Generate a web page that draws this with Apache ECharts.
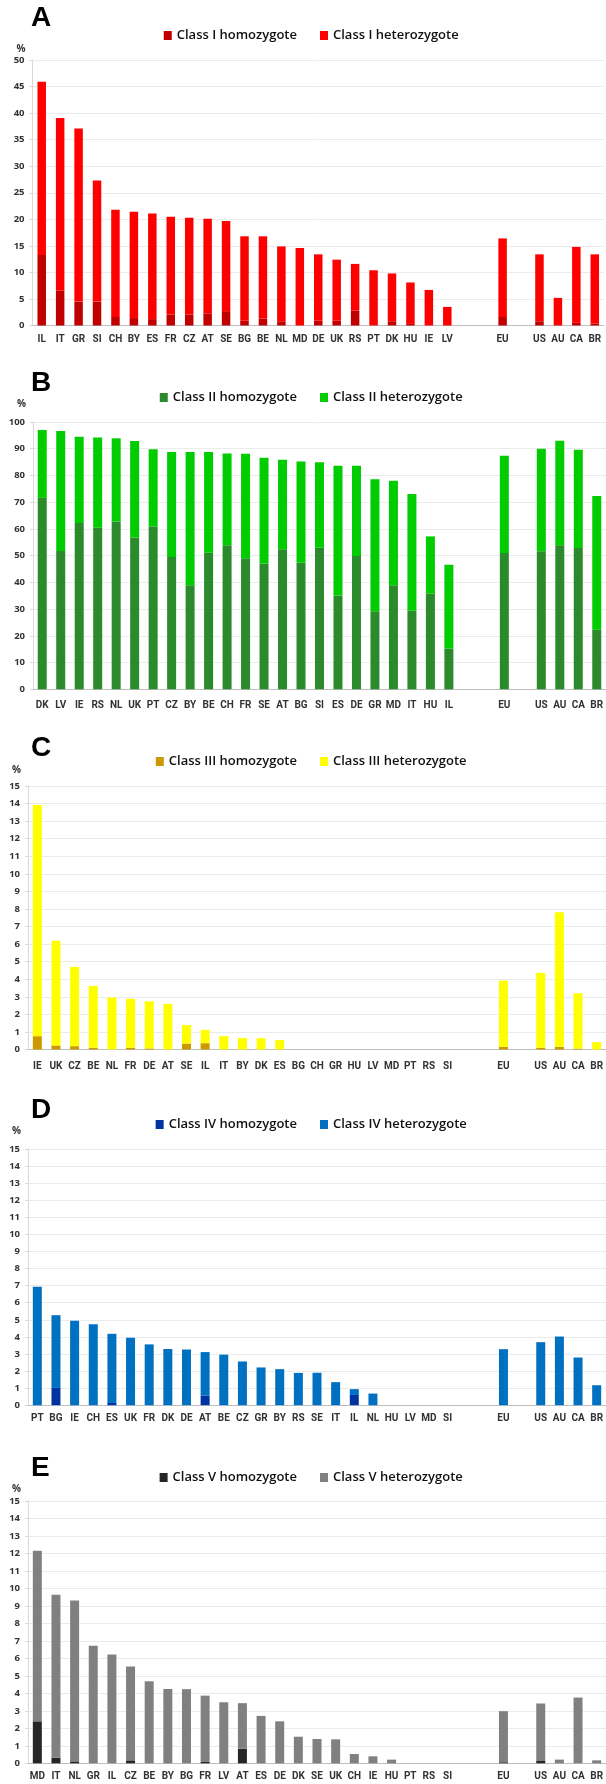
<!DOCTYPE html>
<html><head><meta charset="utf-8">
<script src="https://cdn.jsdelivr.net/npm/echarts@6/dist/echarts.min.js"></script>
<style>html,body{margin:0;padding:0;background:#fff}#c{width:606px;height:1784px}</style>
</head><body><div id="c"></div>
<script>
// ---- data ----
const catsA = ['IL','IT','GR','SI','CH','BY','ES','FR','CZ','AT','SE','BG','BE','NL','MD','DE','UK','RS','PT','DK','HU','IE','LV',' ','  ','EU','   ','US','AU','CA','BR'];
const homoA = [13.3,6.6,4.5,4.5,1.6,1.4,1.2,2.1,2.1,2.3,2.7,0.9,1.3,0.8,0,0.9,0.9,2.8,0,0.8,0.3,0,0,'-','-',1.6,'-',0.8,0,0.5,0.4];
const hetA  = [32.6,32.5,32.6,22.8,20.2,20.0,19.9,18.4,18.2,17.8,17.0,15.9,15.5,14.1,14.6,12.5,11.5,8.8,10.4,9.0,7.8,6.7,3.5,'-','-',14.8,'-',12.6,5.2,14.3,13.0];

const catsB = ['DK','LV','IE','RS','NL','UK','PT','CZ','BY','BE','CH','FR','SE','AT','BG','SI','ES','DE','GR','MD','IT','HU','IL',' ','  ','EU','   ','US','AU','CA','BR'];
const homoB = [71.6,51.7,62.2,60.4,62.8,56.8,60.9,49.5,38.9,51.1,53.9,49.0,47.1,52.4,47.3,53.0,35.1,49.9,29.2,38.9,29.4,35.8,15.2,'-','-',51.0,'-',51.6,53.9,52.9,22.3];
const hetB  = [25.4,44.9,32.3,33.8,31.1,36.1,28.9,39.3,49.9,37.7,34.3,39.1,39.5,33.5,37.9,31.9,48.5,33.7,49.4,39.1,43.7,21.4,31.4,'-','-',36.4,'-',38.4,39.1,36.7,50.0];

const catsC = ['IE','UK','CZ','BE','NL','FR','DE','AT','SE','IL','IT','BY','DK','ES','BG','CH','GR','HU','LV','MD','PT','RS','SI',' ','  ','EU','   ','US','AU','CA','BR'];
const homoC = [0.76,0.23,0.19,0.1,0,0.1,0.06,0,0.34,0.36,0,0,0,0,0,0,0,0,0,0,0,0,0,'-','-',0.15,'-',0.1,0.15,0.05,0];
const hetC  = [13.16,5.96,4.51,3.52,2.96,2.79,2.68,2.6,1.05,0.76,0.76,0.65,0.64,0.54,0,0,0,0,0,0,0,0,0,'-','-',3.77,'-',4.26,7.67,3.15,0.42];

const catsD = ['PT','BG','IE','CH','ES','UK','FR','DK','DE','AT','BE','CZ','GR','BY','RS','SE','IT','IL','NL','HU','LV','MD','SI',' ','  ','EU','   ','US','AU','CA','BR'];
const homoD = [0,1.01,0,0,0.13,0,0,0,0,0.56,0,0,0,0,0,0,0,0.6,0,0,0,0,0,'-','-',0,'-',0,0,0,0];
const hetD  = [6.94,4.26,4.95,4.74,4.05,3.95,3.56,3.29,3.26,2.55,2.96,2.56,2.21,2.11,1.89,1.9,1.35,0.34,0.68,0,0,0,0,'-','-',3.28,'-',3.69,4.02,2.79,1.17];

const catsE = ['MD','IT','NL','GR','IL','CZ','BE','BY','BG','FR','LV','AT','ES','DE','DK','SE','UK','CH','IE','HU','PT','RS','SI',' ','  ','EU','   ','US','AU','CA','BR'];
const homoE = [2.4,0.32,0.11,0,0,0.17,0,0,0,0.08,0,0.84,0,0,0,0,0,0,0,0,0,0,0,'-','-',0.06,'-',0.13,0,0,0];
const hetE  = [9.76,9.32,9.2,6.72,6.22,5.36,4.69,4.25,4.24,3.79,3.49,2.6,2.71,2.4,1.52,1.39,1.37,0.53,0.4,0.21,0,0,0,'-','-',2.92,'-',3.29,0.21,3.76,0.17];

const namesA = ['Class I homozygote','Class I heterozygote'];
const namesB = ['Class II homozygote','Class II heterozygote'];
const namesC = ['Class III homozygote','Class III heterozygote'];
const namesD = ['Class IV homozygote','Class IV heterozygote'];
const namesE = ['Class V homozygote','Class V heterozygote'];

// ---- layout / style ----
const panels = [
  {letter:'A', cats:catsA, homo:homoA, het:hetA, names:namesA, colors:['#c00000','#ff0000'], max:50, interval:5,
   grid:{left:32.5,right:2,top:60,height:265.5}, letterTop:4, legendTop:29, pctGap:6, xMargin:9, barWidth:8.5},
  {letter:'B', cats:catsB, homo:homoB, het:hetB, names:namesB, colors:['#2b8a2b','#00cc00'], max:100, interval:10,
   grid:{left:33,right:0,top:422,height:267.3}, letterTop:369, legendTop:391, pctGap:13, xMargin:11, barWidth:9},
  {letter:'C', cats:catsC, homo:homoC, het:hetC, names:namesC, colors:['#cc9900','#ffff00'], max:15, interval:1,
   grid:{left:28,right:0,top:786,height:263.5}, letterTop:734, legendTop:755, pctGap:11, xMargin:12, barWidth:9},
  {letter:'D', cats:catsD, homo:homoD, het:hetD, names:namesD, colors:['#0033a0','#0070c0'], max:15, interval:1,
   grid:{left:28,right:0,top:1149,height:256.2}, letterTop:1096, legendTop:1118, pctGap:13, xMargin:8, barWidth:9},
  {letter:'E', cats:catsE, homo:homoE, het:hetE, names:namesE, colors:['#262626','#808080'], max:15, interval:1,
   grid:{left:28,right:0,top:1501,height:262.3}, letterTop:1454, legendTop:1471, pctGap:7, xMargin:8, barWidth:9}
];

const option = {
  animation:false, backgroundColor:'#fff',
  title:[], legend:[], grid:[], xAxis:[], yAxis:[], series:[]
};
panels.forEach((p,i)=>{
  option.title.push({text:p.letter, left:31, top:p.letterTop, padding:0,
    textStyle:{fontFamily:'Liberation Sans, Arial', fontWeight:'bold', fontSize:28, color:'#000'}});
  const lt = {fontFamily:'Open Sans', fontSize:13, fontWeight:600, color:'#111'};
  option.legend.push({data:[p.names[0]], right:309, top:p.legendTop, padding:0, itemWidth:8, itemHeight:9,
    icon:'rect', textStyle:lt, selectedMode:false});
  option.legend.push({data:[p.names[1]], left:320, top:p.legendTop, padding:0, itemWidth:8, itemHeight:9,
    icon:'rect', textStyle:lt, selectedMode:false});
  option.grid.push(Object.assign({containLabel:false, outerBoundsMode:'none'}, p.grid));
  option.xAxis.push({type:'category', gridIndex:i, data:p.cats,
    axisLine:{show:true, lineStyle:{color:'#bfbfbf', width:1}}, axisTick:{show:false},
    axisLabel:{interval:0, margin:p.xMargin, fontFamily:'Roboto', fontWeight:'bold', fontSize:10, color:'#333'},
    splitLine:{show:false}});
  option.yAxis.push({type:'value', gridIndex:i, min:0, max:p.max, interval:p.interval,
    name:'%', nameLocation:'end', nameGap:p.pctGap,
    nameTextStyle:{align:'right', padding:[0,7,0,0], fontFamily:'Open Sans', fontWeight:'bold', fontSize:10, color:'#333'},
    axisLine:{show:true, lineStyle:{color:'#d9d9d9'}}, axisTick:{show:true, length:3, lineStyle:{color:'#d9d9d9'}},
    axisLabel:{margin:8, fontFamily:'Open Sans', fontWeight:'bold', fontSize:9.5, color:'#333'},
    splitLine:{show:true, lineStyle:{color:'#ebebeb', width:1}}});
  option.series.push({name:p.names[0], type:'bar', stack:'s'+i, xAxisIndex:i, yAxisIndex:i, data:p.homo,
    barWidth:p.barWidth, itemStyle:{color:p.colors[0]}});
  option.series.push({name:p.names[1], type:'bar', stack:'s'+i, xAxisIndex:i, yAxisIndex:i, data:p.het,
    barWidth:p.barWidth, itemStyle:{color:p.colors[1]}});
});
const chart = echarts.init(document.getElementById('c'), null, {renderer:'canvas'});
chart.setOption(option);
</script></body></html>
